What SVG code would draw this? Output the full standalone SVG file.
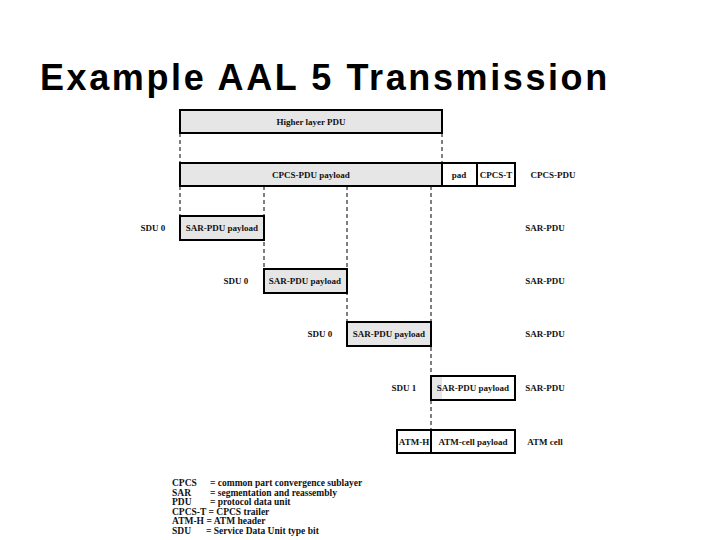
<svg xmlns="http://www.w3.org/2000/svg" width="720" height="540" viewBox="0 0 720 540">
<style>
.t{font-family:"Liberation Sans",Arial,sans-serif;font-weight:bold;font-size:36px;letter-spacing:2.6px}
.s{font-family:"Liberation Serif","Times New Roman",serif;font-weight:bold;font-size:9px;fill:#111}
.b{stroke:#000;stroke-width:2;fill:#fff}
.g{fill:#e6e6e6}
.d{stroke:#000;stroke-width:1;stroke-dasharray:4,3;fill:none}
</style>
<rect width="720" height="540" fill="#fff"/>
<text class="t" x="40" y="90">Example AAL 5 Transmission</text>
<g id="connectors">
<path class="d" d="M180,133V163M442,133V163M180,186V216M264,186V269M347,186V322M431,186V376M431,400V430"/>
</g>
<g id="higher"><rect class="b g" x="180" y="110" width="262" height="23"/><text class="s" x="311" y="125" text-anchor="middle">Higher layer PDU</text></g>
<g id="cpcs"><rect class="b g" x="180" y="163" width="262" height="23"/><text class="s" x="311" y="178" text-anchor="middle">CPCS-PDU payload</text>
<rect class="b" x="442" y="163" width="35" height="23" stroke-width="1"/><text class="s" x="459" y="178" text-anchor="middle">pad</text>
<rect class="b" x="477" y="163" width="38" height="23" stroke-width="1"/><text class="s" x="496" y="178" text-anchor="middle">CPCS-T</text>
<text class="s" x="553" y="178" text-anchor="middle">CPCS-PDU</text></g>
<g id="sar1"><text class="s" x="153" y="231" text-anchor="middle">SDU 0</text><rect class="b g" x="180" y="216" width="84" height="24"/><text class="s" x="222" y="231" text-anchor="middle">SAR-PDU payload</text><text class="s" x="545" y="231" text-anchor="middle">SAR-PDU</text></g>
<g id="sar2"><text class="s" x="236" y="284" text-anchor="middle">SDU 0</text><rect class="b g" x="264" y="269" width="83" height="24"/><text class="s" x="305" y="284" text-anchor="middle">SAR-PDU payload</text><text class="s" x="545" y="284" text-anchor="middle">SAR-PDU</text></g>
<g id="sar3"><text class="s" x="320" y="337" text-anchor="middle">SDU 0</text><rect class="b g" x="347" y="322" width="84" height="24"/><text class="s" x="389" y="337" text-anchor="middle">SAR-PDU payload</text><text class="s" x="545" y="337" text-anchor="middle">SAR-PDU</text></g>
<g id="sar4"><text class="s" x="404" y="391" text-anchor="middle">SDU 1</text><rect class="b" x="431" y="376" width="84" height="24"/><rect class="g" x="432" y="377" width="10" height="22"/><text class="s" x="473" y="391" text-anchor="middle">SAR-PDU payload</text><text class="s" x="545" y="391" text-anchor="middle">SAR-PDU</text></g>
<g id="atm"><rect class="b" x="397" y="430" width="34" height="23"/><text class="s" x="414" y="445" text-anchor="middle">ATM-H</text><rect class="b" x="431" y="430" width="84" height="23"/><text class="s" x="473" y="445" text-anchor="middle">ATM-cell payload</text><text class="s" x="545" y="445" text-anchor="middle">ATM cell</text></g>
<g id="legend" class="s" style="font-size:9.5px">
<text x="172" y="486">CPCS</text><text x="210" y="486">= common part convergence sublayer</text>
<text x="172" y="495.5">SAR</text><text x="210" y="495.5">= segmentation and reassembly</text>
<text x="172" y="505">PDU</text><text x="210" y="505">= protocol data unit</text>
<text x="172" y="514.5">CPCS-T = CPCS trailer</text>
<text x="172" y="524">ATM-H = ATM header</text>
<text x="172" y="533.5">SDU</text><text x="206" y="533.5">= Service Data Unit type bit</text>
</g>
</svg>
